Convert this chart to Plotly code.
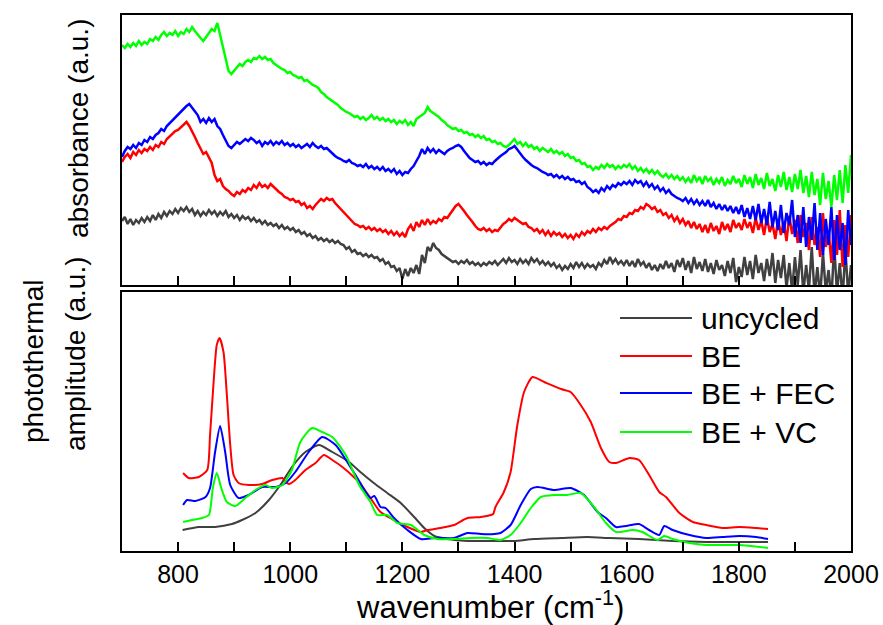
import plotly.graph_objects as go

# ---------------- top panel: absorbance (a.u.), sampled every 5 cm^-1 from 700 to 2000
wn_top = list(range(700, 2001, 5))

abs_uncycled = [
    64, 68, 61, 66, 60, 65, 62, 67, 63, 68, 64, 70, 65, 71, 67, 73, 69, 74, 71, 76,
    72, 77, 74, 78, 73, 76, 70, 74, 69, 73, 70, 75, 71, 74, 69, 73, 70, 74, 68, 71,
    67, 70, 65, 69, 66, 68, 64, 67, 63, 65, 61, 64, 60, 62, 59, 61, 57, 60, 56, 58,
    55, 57, 53, 55, 51, 53, 49, 51, 47, 49, 45, 47, 44, 46, 43, 45, 42, 44, 41, 40,
    36, 38, 33, 35, 31, 32, 29, 31, 28, 30, 27, 28, 24, 26, 21, 23, 18, 19, 14, 17,
    6, 16, 9, 17, 12, 20, 11, 30, 22, 38, 34, 42, 37, 35, 31, 29, 27, 25, 23, 24,
    21, 24, 22, 25, 21, 23, 20, 22, 19, 22, 20, 23, 21, 24, 20, 23, 26, 22, 27, 23,
    25, 21, 26, 22, 25, 21, 27, 23, 26, 21, 24, 20, 23, 19, 22, 17, 20, 15, 19, 16,
    21, 17, 23, 18, 22, 17, 21, 18, 20, 16, 22, 19, 25, 21, 28, 22, 26, 21, 24, 20,
    25, 19, 24, 18, 26, 20, 23, 17, 22, 15, 20, 14, 21, 16, 24, 17, 22, 13, 25, 18,
    27, 15, 24, 12, 28, 16, 23, 14, 26, 13, 22, 11, 25, 15, 20, 9, 24, 12, 27, 3,
    18, 8, 28, 10, 24, 6, 30, 12, 22, 4, 26, 9, 32, 2, 25, 7, 30, -3, 22, -6,
    28, 0, 35, -8, 20, -5, 38, -10, 18, -12, 32, -6, 15, -15, 40, -8, 22, -14, 36, -10, 20,
]
abs_be = [
    123, 128, 131, 127, 133, 130, 135, 132, 136, 134, 138, 135, 140, 138, 143, 141, 146, 149, 151, 154,
    155, 158, 161, 163, 159, 154, 148, 142, 136, 131, 133, 127, 122, 110, 104, 106, 99, 96, 94, 91,
    89, 93, 91, 95, 93, 97, 95, 100, 97, 102, 98, 100, 97, 101, 98, 96, 93, 91, 88, 87,
    85, 86, 83, 84, 80, 82, 77, 79, 76, 80, 83, 86, 84, 87, 85, 86, 82, 79, 75, 72,
    70, 67, 64, 61, 60, 58, 59, 56, 58, 55, 57, 54, 56, 53, 55, 51, 54, 50, 53, 49,
    52, 48, 56, 60, 54, 63, 58, 65, 60, 66, 61, 64, 62, 66, 64, 68, 67, 71, 75, 79,
    81, 78, 74, 70, 67, 63, 59, 56, 55, 57, 54, 56, 53, 55, 54, 58, 61, 63, 66, 64,
    67, 65, 63, 61, 62, 58, 57, 54, 56, 52, 55, 50, 54, 49, 53, 50, 52, 48, 51, 47,
    50, 46, 51, 48, 53, 50, 54, 52, 56, 53, 57, 55, 58, 56, 59, 61, 63, 66, 65, 69,
    68, 72, 71, 75, 74, 78, 76, 81, 79, 76, 78, 73, 75, 70, 72, 67, 70, 64, 68, 62,
    66, 60, 64, 57, 63, 56, 61, 53, 60, 52, 62, 54, 59, 51, 63, 55, 61, 53, 65, 57,
    62, 55, 66, 57, 63, 52, 67, 55, 64, 50, 68, 53, 61, 46, 66, 50, 63, 44, 69, 51,
    65, 42, 70, 48, 62, 35, 68, 40, 58, 28, 72, 38, 55, 22, 65, 30, 75, 18, 60, 28, 70,
]
abs_be_fec = [
    128, 134, 138, 136, 140, 137, 142, 140, 145, 143, 148, 146, 150, 152, 156, 154, 159, 162, 165, 167,
    170, 173, 176, 179, 181, 177, 174, 170, 163, 166, 162, 167, 163, 166, 159, 156, 150, 145, 139, 137,
    140, 143, 141, 144, 146, 144, 147, 145, 142, 144, 139, 143, 141, 144, 140, 143, 141, 144, 140, 142,
    139, 141, 138, 140, 137, 139, 141, 138, 142, 139, 137, 139, 136, 137, 134, 131, 129, 127, 126, 124,
    123, 125, 122, 121, 119, 120, 118, 121, 117, 119, 116, 118, 115, 118, 114, 116, 113, 116, 111, 114,
    110, 113, 112, 116, 119, 124, 129, 136, 131, 137, 133, 136, 132, 135, 133, 131, 134, 136, 137, 139,
    140, 138, 134, 130, 127, 125, 123, 124, 121, 123, 120, 122, 121, 124, 127, 129, 131, 133, 136, 137,
    139, 135, 131, 128, 125, 122, 120, 118, 117, 115, 113, 112, 110, 111, 108, 110, 107, 109, 106, 108,
    105, 106, 103, 104, 101, 103, 98, 96, 93, 95, 92, 97, 94, 99, 96, 100, 98, 102, 100, 103,
    101, 104, 100, 105, 102, 104, 99, 103, 98, 101, 96, 99, 94, 97, 92, 95, 91, 89, 87, 86,
    84, 87, 82, 86, 81, 85, 80, 84, 79, 85, 78, 82, 76, 81, 75, 80, 74, 79, 72, 78,
    71, 80, 68, 77, 66, 79, 65, 81, 62, 76, 60, 83, 58, 74, 55, 80, 52, 72, 60, 85,
    48, 70, 42, 78, 38, 68, 45, 82, 35, 72, 30, 66, 40, 78, 25, 70, 35, 62, 20, 75, 40,
]
abs_be_vc = [
    240, 237, 241, 238, 242, 239, 244, 240, 243, 241, 246, 244, 248, 245, 250, 253, 249, 252, 250, 254,
    249, 253, 251, 256, 253, 258, 254, 250, 247, 244, 248, 252, 256, 254, 262, 250, 238, 225, 214, 211,
    214, 218, 221, 219, 223, 225, 223, 227, 226, 229, 226, 228, 225, 226, 222, 220, 218, 216, 215, 212,
    213, 210, 209, 207, 208, 204, 205, 202, 200, 199, 197, 193, 191, 188, 186, 184, 182, 180, 177, 175,
    173, 172, 170, 168, 169, 166, 168, 165, 167, 170, 166, 168, 165, 167, 164, 166, 163, 165, 161, 164,
    162, 165, 160, 163, 159, 166, 168, 170, 172, 178, 174, 172, 170, 168, 165, 163, 160, 158, 156, 157,
    154, 155, 152, 153, 150, 151, 148, 150, 147, 149, 145, 146, 143, 144, 141, 142, 139, 138, 140, 143,
    146, 141, 143, 139, 142, 138, 140, 136, 138, 134, 137, 135, 133, 136, 132, 134, 131, 133, 129, 131,
    127, 128, 124, 125, 121, 122, 118, 119, 115, 118, 116, 120, 117, 121, 118, 120, 116, 119, 117, 120,
    118, 121, 116, 119, 114, 117, 113, 116, 112, 115, 111, 114, 110, 108, 111, 107, 110, 106, 109, 105,
    108, 103, 107, 102, 110, 104, 108, 101, 109, 104, 107, 100, 106, 102, 108, 99, 105, 101, 109, 102,
    106, 98, 110, 101, 108, 97, 111, 100, 107, 96, 112, 99, 106, 94, 110, 98, 113, 95, 108, 93,
    111, 96, 115, 92, 109, 88, 113, 90, 106, 80, 112, 86, 104, 78, 110, 85, 115, 82, 120, 92, 130,
]
for s in (abs_uncycled, abs_be, abs_be_fec, abs_be_vc):
    assert len(s) == len(wn_top), len(s)

# ---------------- bottom panel: photothermal amplitude (a.u.)
pt_uncycled_x = [808, 837, 866, 896, 914, 938, 962, 986, 1003, 1027,
                 1051, 1075, 1105, 1125, 1149, 1173, 1197, 1221, 1239, 1257,
                 1280, 1316, 1364, 1399, 1435, 1483, 1530, 1569, 1622, 1682,
                 1742, 1801, 1852]
pt_uncycled_y = [21, 24, 24, 27, 31, 38, 51, 69, 84, 99,
                 106, 99, 89, 79, 68, 58, 48, 34, 23, 15,
                 12, 10, 10, 10, 12, 13, 14, 13, 12, 10,
                 9, 9, 9]

pt_be_x = [809, 819, 837, 852, 857, 863, 869, 874, 881, 887,
           893, 899, 908, 926, 950, 968, 986, 992, 998, 1009,
           1027, 1045, 1060, 1075, 1093, 1117, 1125, 1132, 1143, 1161,
           1185, 1209, 1233, 1245, 1268, 1292, 1316, 1340, 1358, 1362,
           1366, 1381, 1393, 1405, 1417, 1432, 1453, 1483, 1500, 1518,
           1536, 1554, 1569, 1581, 1605, 1622, 1640, 1658, 1670, 1694,
           1718, 1742, 1771, 1801, 1831, 1852]
pt_be_y = [78, 73, 74, 81, 116, 166, 206, 213, 199, 156,
           106, 76, 68, 66, 67, 71, 73, 69, 67, 71,
           81, 88, 96, 91, 84, 72, 67, 62, 53, 39,
           31, 24, 19, 21, 23, 26, 33, 34, 36, 37,
           44, 59, 79, 126, 159, 174, 169, 162, 159, 146,
           129, 103, 89, 88, 93, 91, 76, 59, 54, 38,
           29, 26, 23, 24, 23, 22]

pt_be_fec_x = [809, 816, 831, 849, 857, 866, 875, 884, 893, 908,
               926, 950, 974, 992, 1009, 1033, 1057, 1081, 1105, 1125,
               1132, 1143, 1150, 1161, 1170, 1185, 1209, 1233, 1257, 1292,
               1316, 1340, 1364, 1375, 1393, 1411, 1429, 1441, 1471, 1500,
               1524, 1548, 1563, 1581, 1599, 1622, 1640, 1658, 1667, 1682,
               1712, 1742, 1771, 1801, 1831, 1852]
pt_be_fec_y = [46, 51, 50, 54, 63, 99, 125, 99, 66, 53,
               56, 64, 64, 68, 79, 99, 114, 106, 86, 68,
               61, 53, 55, 44, 43, 33, 21, 12, 13, 13,
               18, 17, 17, 18, 26, 46, 62, 64, 61, 63,
               56, 39, 33, 24, 25, 27, 21, 16, 25, 21,
               16, 13, 14, 15, 14, 12]

pt_be_vc_x = [809, 825, 843, 855, 862, 869, 877, 887, 902, 920,
              938, 956, 968, 986, 1003, 1018, 1039, 1057, 1075, 1099,
              1117, 1125, 1143, 1155, 1173, 1191, 1215, 1239, 1263, 1292,
              1322, 1352, 1375, 1393, 1411, 1429, 1447, 1471, 1494, 1518,
              1542, 1563, 1581, 1611, 1628, 1655, 1667, 1682, 1712, 1742,
              1801, 1852]
pt_be_vc_y = [29, 31, 33, 36, 63, 78, 63, 49, 45, 53,
              61, 66, 63, 66, 81, 109, 123, 119, 114, 96,
              73, 64, 49, 36, 36, 28, 26, 16, 12, 12,
              13, 13, 11, 16, 28, 43, 54, 56, 56, 58,
              44, 28, 19, 21, 19, 11, 15, 12, 8, 6,
              6, 3]

series_names = ["uncycled", "BE", "BE + FEC", "BE + VC"]
series_colors = ["#404040", "#ff0000", "#0000ff", "#00ff00"]

x_major_ticks = [800, 1000, 1200, 1400, 1600, 1800, 2000]
x_major_text = ["800", "1000", "1200", "1400", "1600", "1800", "2000"]
x_minor_ticks = [900, 1100, 1300, 1500, 1700, 1900]

FONT = "Liberation Sans, Arial, sans-serif"
W, H = 883, 625
ML, MR, MT, MB = 122, 32, 15, 74
PW, PH = W - ML - MR, H - MT - MB


def px(x):
    return (x - ML) / PW


def py(y):
    return (H - MB - y) / PH


fig = go.Figure()

top_data = [abs_uncycled, abs_be, abs_be_fec, abs_be_vc]
for name, col, ys in zip(series_names, series_colors, top_data):
    fig.add_trace(go.Scatter(x=wn_top, y=ys, mode="lines", name=name,
                             line=dict(color=col, width=2.5),
                             xaxis="x2", yaxis="y2", showlegend=False))

bottom_data = [(pt_uncycled_x, pt_uncycled_y), (pt_be_x, pt_be_y),
               (pt_be_fec_x, pt_be_fec_y), (pt_be_vc_x, pt_be_vc_y)]
for name, col, (xs, ys) in zip(series_names, series_colors, bottom_data):
    fig.add_trace(go.Scatter(x=xs, y=ys, mode="lines", name=name,
                             line=dict(color=col, width=2, shape="spline", smoothing=0.6),
                             xaxis="x", yaxis="y", showlegend=False))

axis_common = dict(showline=True, linewidth=2, linecolor="black", mirror=True,
                   showgrid=False, zeroline=False, automargin=False)
minor_common = dict(tickvals=x_minor_ticks, ticks="inside", ticklen=9,
                    tickwidth=2, tickcolor="black", showgrid=False)

fig.update_layout(
    width=W, height=H,
    margin=dict(l=ML, r=MR, t=MT, b=MB, pad=0, autoexpand=False),
    paper_bgcolor="white", plot_bgcolor="white",
    font=dict(family=FONT, color="black"),
    showlegend=False,
    xaxis=dict(domain=[0, 1], anchor="y", range=[700, 2000],
               tickmode="array", tickvals=x_major_ticks, ticktext=x_major_text,
               ticks="inside", ticklen=9, tickwidth=2, tickcolor="black",
               minor=minor_common,
               tickfont=dict(size=25, family=FONT), **axis_common),
    xaxis2=dict(domain=[0, 1], anchor="y2", range=[700, 2000], matches="x",
                tickmode="array", tickvals=x_major_ticks, ticktext=x_major_text,
                showticklabels=False,
                ticks="inside", ticklen=9, tickwidth=2, tickcolor="black",
                minor=minor_common, **axis_common),
    yaxis=dict(domain=[0, py(292)], anchor="x", range=[0, 259],
               showticklabels=False, ticks="", **axis_common),
    yaxis2=dict(domain=[py(285), 1], anchor="x2", range=[0, 270],
                showticklabels=False, ticks="", **axis_common),
)

ann = []
ann.append(dict(x=px(490), y=py(605), text="wavenumber (cm<sup>-1</sup>)",
                font=dict(size=31, family=FONT)))
ann.append(dict(x=px(78), y=py(129), text="absorbance (a.u.)", textangle=-90,
                font=dict(size=28, family=FONT)))
ann.append(dict(x=px(75), y=py(354), text="amplitude (a.u.)", textangle=-90,
                font=dict(size=28, family=FONT)))
ann.append(dict(x=px(33), y=py(362), text="photothermal", textangle=-90,
                font=dict(size=28, family=FONT)))

legend_rows = [318, 356, 393, 432]
shapes = []
for name, col, ry in zip(series_names, series_colors, legend_rows):
    shapes.append(dict(type="line", xref="paper", yref="paper",
                       x0=px(620), x1=px(692), y0=py(ry), y1=py(ry),
                       line=dict(color=col, width=2)))
    ann.append(dict(x=px(699), y=py(ry), text=name, xanchor="left",
                    font=dict(size=30, family=FONT)))

for a in ann:
    a.update(xref="paper", yref="paper", showarrow=False)
    a.setdefault("xanchor", "center")
    a.setdefault("yanchor", "middle")

fig.update_layout(annotations=ann, shapes=shapes)

fig.write_html("out.html")
